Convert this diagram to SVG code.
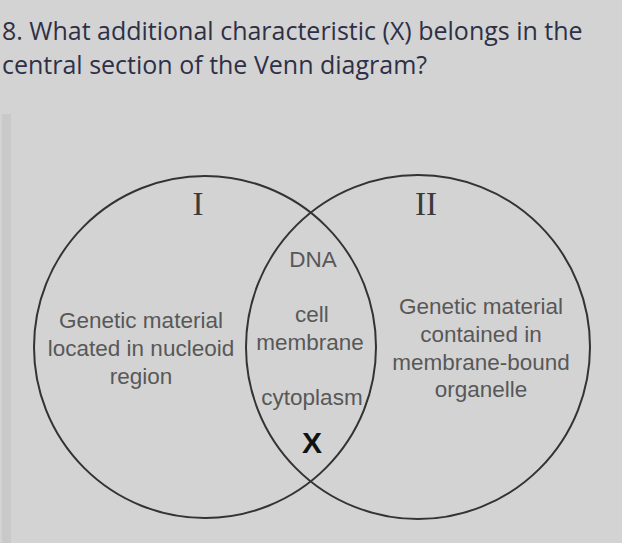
<svg xmlns="http://www.w3.org/2000/svg" width="622" height="543" viewBox="0 0 622 543">
<style>
.title{font-family:"Open Sans","Noto Sans",sans-serif;font-size:25px;fill:#2e3048}
.lbl{font-family:"Liberation Sans",Arial,sans-serif;font-size:22.5px;fill:#585858;text-anchor:middle}
.rom{font-family:"Liberation Serif","Times New Roman",serif;font-size:33px;fill:#3a3a3a;text-anchor:middle}
.ring{fill:none;stroke:#333;stroke-width:2}
</style>
<rect width="622" height="543" fill="#d3d3d3"/>
<rect x="2" y="114" width="9" height="429" fill="#c9c9c9"/>
<text class="title" x="2" y="40">8. What additional characteristic (X) belongs in the</text>
<text class="title" x="2" y="74">central section of the Venn diagram?</text>
<g id="connectors"></g>
<g id="circle-I">
<circle class="ring" cx="205" cy="347" r="171"/>
<text class="rom" x="198" y="215">I</text>
<text class="lbl" x="141" y="328">Genetic material</text>
<text class="lbl" x="141" y="356">located in nucleoid</text>
<text class="lbl" x="141" y="384">region</text>
</g>
<g id="circle-II">
<circle class="ring" cx="418" cy="347" r="172"/>
<text class="rom" x="426" y="215">II</text>
<text class="lbl" x="481" y="314">Genetic material</text>
<text class="lbl" x="481" y="342">contained in</text>
<text class="lbl" x="481" y="370">membrane-bound</text>
<text class="lbl" x="481" y="397">organelle</text>
</g>
<g id="overlap">
<text class="lbl" x="313" y="267">DNA</text>
<text class="lbl" x="312" y="322">cell</text>
<text class="lbl" x="310" y="350">membrane</text>
<text class="lbl" x="312" y="405">cytoplasm</text>
<text x="312" y="453" style="font-family:'Liberation Sans',Arial,sans-serif;font-size:30px;font-weight:bold;fill:#111;text-anchor:middle">X</text>
</g>
</svg>
